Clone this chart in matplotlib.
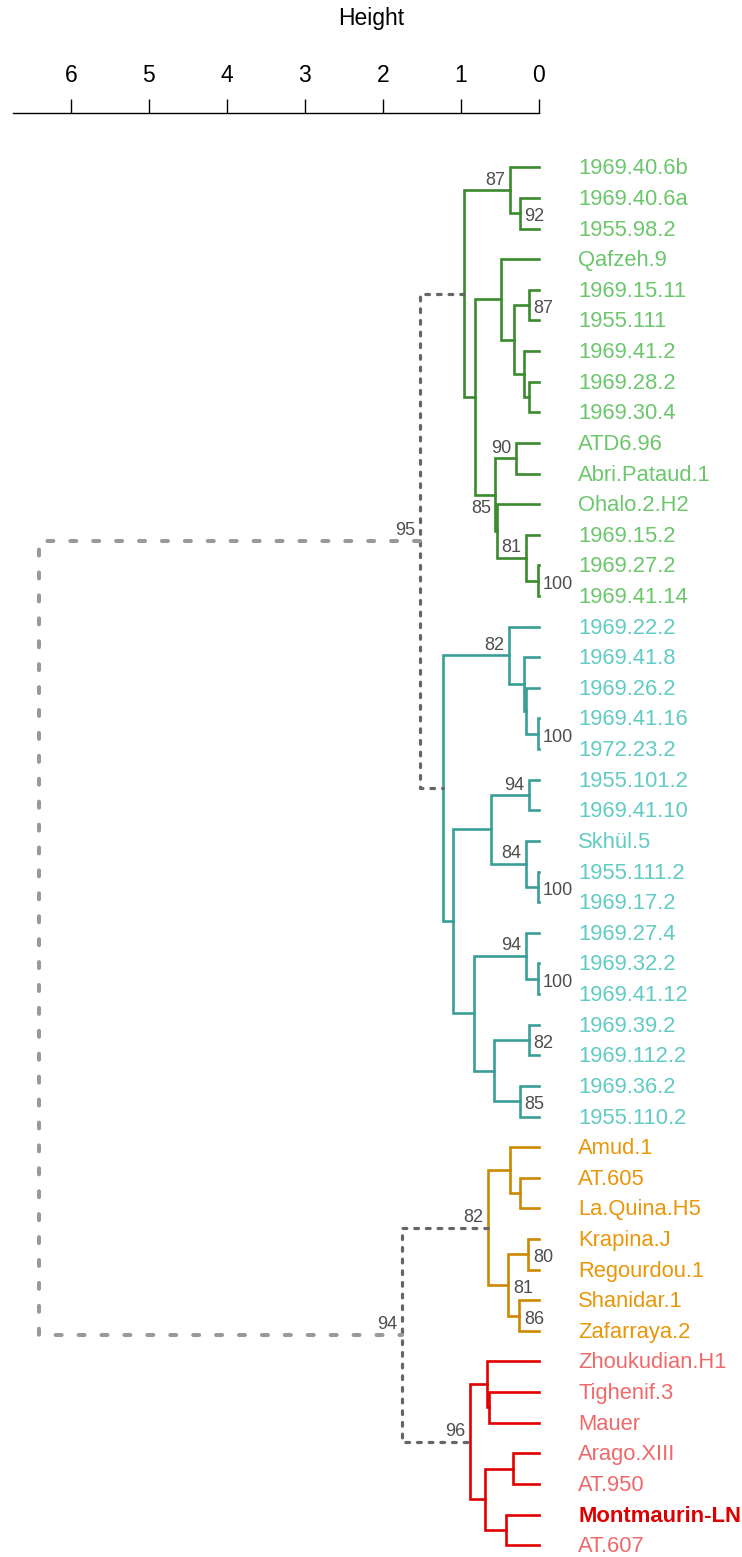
import matplotlib
matplotlib.use("Agg")
import matplotlib.pyplot as plt
import matplotlib.transforms as mtransforms

plt.rcParams['font.family'] = ['Liberation Sans', 'DejaVu Sans']
plt.rcParams['lines.scale_dashes'] = False

# leaves, top to bottom
leaves = [
    "1969.40.6b", "1969.40.6a", "1955.98.2", "Qafzeh.9", "1969.15.11",
    "1955.111", "1969.41.2", "1969.28.2", "1969.30.4", "ATD6.96",
    "Abri.Pataud.1", "Ohalo.2.H2", "1969.15.2", "1969.27.2", "1969.41.14",
    "1969.22.2", "1969.41.8", "1969.26.2", "1969.41.16", "1972.23.2",
    "1955.101.2", "1969.41.10", "Skhül.5", "1955.111.2", "1969.17.2",
    "1969.27.4", "1969.32.2", "1969.41.12", "1969.39.2", "1969.112.2",
    "1969.36.2", "1955.110.2",
    "Amud.1", "AT.605", "La.Quina.H5", "Krapina.J", "Regourdou.1",
    "Shanidar.1", "Zafarraya.2",
    "Zhoukudian.H1", "Tighenif.3", "Mauer", "Arago.XIII", "AT.950",
    "Montmaurin-LN", "AT.607",
]
group_names = ["green", "teal", "orange", "red"]
group_sizes = [15, 17, 7, 7]
highlight = "Montmaurin-LN"

branch_colors = {"green": "#3a8a2e", "teal": "#3a9e97",
                 "orange": "#cc8800", "red": "#e00000"}
label_colors = {"green": "#6cc66c", "teal": "#62cbc3",
                "orange": "#e8960a", "red": "#ee6a6a"}

# merges: name, left child, right child, height, support (au)
merges = [
    ("g_a", "1969.40.6a", "1955.98.2", 0.24, 92),
    ("g_b", "1969.40.6b", "g_a", 0.37, 87),
    ("g_c", "1969.15.11", "1955.111", 0.125, 87),
    ("g_d", "1969.28.2", "1969.30.4", 0.125, None),
    ("g_e", "1969.41.2", "g_d", 0.19, None),
    ("g_f", "g_c", "g_e", 0.32, None),
    ("g_g", "Qafzeh.9", "g_f", 0.48, None),
    ("g_h", "ATD6.96", "Abri.Pataud.1", 0.29, 90),
    ("g_i", "1969.27.2", "1969.41.14", 0.01, 100),
    ("g_j", "1969.15.2", "g_i", 0.163, 81),
    ("g_k", "Ohalo.2.H2", "g_j", 0.539, 85),
    ("g_l", "g_h", "g_k", 0.56, None),
    ("g_m", "g_g", "g_l", 0.817, None),
    ("g_top", "g_b", "g_m", 0.954, None),
    ("t_a", "1969.41.16", "1972.23.2", 0.005, 100),
    ("t_b", "1969.26.2", "t_a", 0.163, None),
    ("t_c", "1969.41.8", "t_b", 0.19, None),
    ("t_d", "1969.22.2", "t_c", 0.377, 82),
    ("t_e", "1955.101.2", "1969.41.10", 0.124, 94),
    ("t_f", "1955.111.2", "1969.17.2", 0.005, 100),
    ("t_g", "Skhül.5", "t_f", 0.163, 84),
    ("t_h", "t_e", "t_g", 0.616, None),
    ("t_i", "1969.32.2", "1969.41.12", 0.005, 100),
    ("t_j", "1969.27.4", "t_i", 0.163, 94),
    ("t_k", "1969.39.2", "1969.112.2", 0.124, 82),
    ("t_l", "1969.36.2", "1955.110.2", 0.24, 85),
    ("t_m", "t_k", "t_l", 0.573, None),
    ("t_n", "t_j", "t_m", 0.83, None),
    ("t_o", "t_h", "t_n", 1.095, None),
    ("t_top", "t_d", "t_o", 1.224, None),
    ("n_a", "AT.605", "La.Quina.H5", 0.24, None),
    ("n_b", "Amud.1", "n_a", 0.367, None),
    ("n_c", "Krapina.J", "Regourdou.1", 0.133, 80),
    ("n_d", "Shanidar.1", "Zafarraya.2", 0.249, 86),
    ("n_e", "n_c", "n_d", 0.39, 81),
    ("n_top", "n_b", "n_e", 0.647, 82),
    ("r_a", "Tighenif.3", "Mauer", 0.633, None),
    ("r_b", "Zhoukudian.H1", "r_a", 0.667, None),
    ("r_c", "Arago.XIII", "AT.950", 0.326, None),
    ("r_d", "Montmaurin-LN", "AT.607", 0.42, None),
    ("r_e", "r_c", "r_d", 0.685, None),
    ("r_top", "r_b", "r_e", 0.881, 96),
    ("modern", "g_top", "t_top", 1.523, 95),
    ("archaic", "n_top", "r_top", 1.75, 94),
    ("root", "modern", "archaic", 6.41, None),
]

height_ticks = [0, 1, 2, 3, 4, 5, 6]

# where the support number sits: right of the node or up-left of it
right_labels = {"g_a", "g_c", "g_i", "t_a", "t_f", "t_i", "t_k", "t_l",
                "n_c", "n_d", "n_e"}
label_nudge = {"g_k": 12.5}

leaf_group = []
for g, n in zip(group_names, group_sizes):
    leaf_group += [g] * n

pos = {name: (0.0, i) for i, name in enumerate(leaves)}
groups = {name: {g} for name, g in zip(leaves, leaf_group)}

fig = plt.figure(figsize=(7.42, 15.57), dpi=100)
ax = fig.add_axes([0, 0, 1, 1 - 113.3 / 1557])
ax.set_xlim(6.911, -2.608)
ax.set_ylim(45.385, -1.7636)

for name, a, b, h, au in merges:
    ha, ya = pos[a]
    hb, yb = pos[b]
    y = (ya + yb) / 2
    pos[name] = (h, y)
    groups[name] = groups[a] | groups[b]
    xs = [ha, h, h, hb]
    ys = [ya, ya, yb, yb]
    if name == "root":
        ax.plot(xs, ys, color="#999999", lw=2.9, dashes=(4.3, 12.2),
                dash_capstyle="round", clip_on=False)
    elif len(groups[name]) > 1:
        ax.plot(xs, ys, color="#666666", lw=2.3, dashes=(2.7, 5.7),
                dash_capstyle="round", clip_on=False)
    else:
        g = list(groups[name])[0]
        ax.plot(xs, ys, color=branch_colors[g], lw=1.9,
                solid_joinstyle="miter", clip_on=False)
    if au is not None:
        if name in right_labels:
            tr = mtransforms.offset_copy(ax.transData, fig, x=4.5, y=-8,
                                         units="dots")
            ax.text(h, y, str(au), ha="left", va="baseline", fontsize=13,
                    color="#4d4d4d", transform=tr)
        else:
            tr = mtransforms.offset_copy(ax.transData, fig, x=-5,
                                         y=5.5 + label_nudge.get(name, 0),
                                         units="dots")
            ax.text(h, y, str(au), ha="right", va="baseline", fontsize=13,
                    color="#4d4d4d", transform=tr)

leaf_tr = mtransforms.offset_copy(ax.transData, fig, x=39.6, y=-7.0,
                                  units="dots")
for i, (name, g) in enumerate(zip(leaves, leaf_group)):
    if name == highlight:
        ax.text(0, i, name, ha="left", va="baseline", fontsize=15.8,
                color="#dd0000", fontweight="bold", transform=leaf_tr)
    else:
        ax.text(0, i, name, ha="left", va="baseline", fontsize=15.8,
                color=label_colors[g], transform=leaf_tr)

for s in ["left", "right", "bottom"]:
    ax.spines[s].set_visible(False)
ax.spines["top"].set_bounds(0, 6.75)
ax.spines["top"].set_linewidth(1.0)
ax.xaxis.tick_top()
ax.set_xticks(height_ticks)
ax.set_xticklabels([str(t) for t in height_ticks])
ax.tick_params(axis="x", top=True, bottom=False, length=10, width=1.0,
               pad=8.7, labelsize=16.5, direction="out")
ax.yaxis.set_visible(False)
ax.patch.set_visible(False)

fig.text(0.5, 1 - 25 / 1557, "Height", ha="center", va="baseline",
         fontsize=16.5)

fig.savefig("out.png", dpi=100)
